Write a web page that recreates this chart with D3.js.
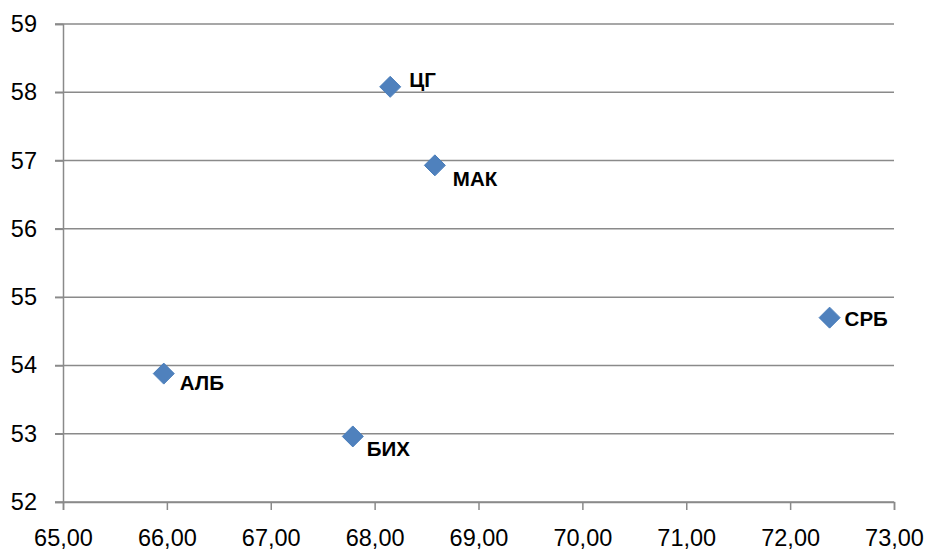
<!DOCTYPE html>
<html>
<head>
<meta charset="utf-8">
<script src="https://cdn.jsdelivr.net/npm/d3@7"></script>
<style>
  html, body { margin: 0; padding: 0; background: #fff; }
  svg { display: block; }
</style>
</head>
<body>
<svg id="chart" width="928" height="550"></svg>
<script>
// Data
const countries = ["ЦГ", "МАК", "АЛБ", "БИХ", "СРБ"];
const xValues = [68.15, 68.58, 65.97, 67.79, 72.38];
const yValues = [58.08, 56.93, 53.88, 52.96, 54.70];
const xTicks = [65, 66, 67, 68, 69, 70, 71, 72, 73];
const yTicks = [52, 53, 54, 55, 56, 57, 58, 59];

const svg = d3.select("#chart");
const margin = { left: 63, right: 34, top: 24, bottom: 48 };
const W = 928, H = 550;

const x = d3.scaleLinear().domain([65, 73]).range([margin.left, W - margin.right]);
const y = d3.scaleLinear().domain([52, 59]).range([H - margin.bottom, margin.top]);

const gridColor = "#8a8a8a";
const fontFamily = "'Liberation Sans', Arial, sans-serif";

// Horizontal gridlines
svg.append("g")
  .selectAll("line")
  .data(yTicks)
  .join("line")
  .attr("x1", x(65) - 8)
  .attr("x2", x(73))
  .attr("y1", d => y(d))
  .attr("y2", d => y(d))
  .attr("stroke", gridColor)
  .attr("stroke-width", 1.5);

// Y axis
const yAxis = svg.append("g")
  .attr("transform", `translate(${x(65)},0)`)
  .call(d3.axisLeft(y).tickValues(yTicks).tickSize(8).tickPadding(18).tickFormat(d3.format("d")));
yAxis.select(".domain").attr("stroke", gridColor).attr("stroke-width", 1.5);
yAxis.selectAll(".tick line").attr("stroke", gridColor).attr("stroke-width", 1.5);
yAxis.selectAll("text").attr("font-family", fontFamily).attr("font-size", 23.5).attr("fill", "#000");

// X axis
const fmtX = d => d3.format(".2f")(d).replace(".", ",");
const xAxis = svg.append("g")
  .attr("transform", `translate(0,${y(52)})`)
  .call(d3.axisBottom(x).tickValues(xTicks).tickSize(8).tickPadding(19).tickFormat(fmtX));
xAxis.select(".domain").attr("stroke", gridColor).attr("stroke-width", 1.5);
xAxis.selectAll(".tick line").attr("stroke", gridColor).attr("stroke-width", 1.5);
xAxis.selectAll("text").attr("font-family", fontFamily).attr("font-size", 23.5).attr("fill", "#000");

// Points
const pts = countries.map((c, i) => ({ name: c, x: xValues[i], y: yValues[i] }));
const r = 10.5;
svg.append("g")
  .selectAll("path")
  .data(pts)
  .join("path")
  .attr("d", d => `M${x(d.x)},${y(d.y) - r}L${x(d.x) + r},${y(d.y)}L${x(d.x)},${y(d.y) + r}L${x(d.x) - r},${y(d.y)}Z`)
  .attr("fill", "#4F81BD")
  .attr("stroke", "#4A7EBB")
  .attr("stroke-width", 1);

// Labels (offset by label placement)
const placement = { "ЦГ": [19, 0], "МАК": [18, 21], "АЛБ": [16, 16], "БИХ": [14, 20], "СРБ": [15, 8] };
svg.append("g")
  .selectAll("text")
  .data(pts)
  .join("text")
  .attr("x", d => x(d.x) + placement[d.name][0])
  .attr("y", d => y(d.y) + placement[d.name][1])
  .attr("font-family", fontFamily)
  .attr("font-weight", "bold")
  .attr("font-size", 20.5)
  .attr("fill", "#000")
  .text(d => d.name);
</script>
</body>
</html>
